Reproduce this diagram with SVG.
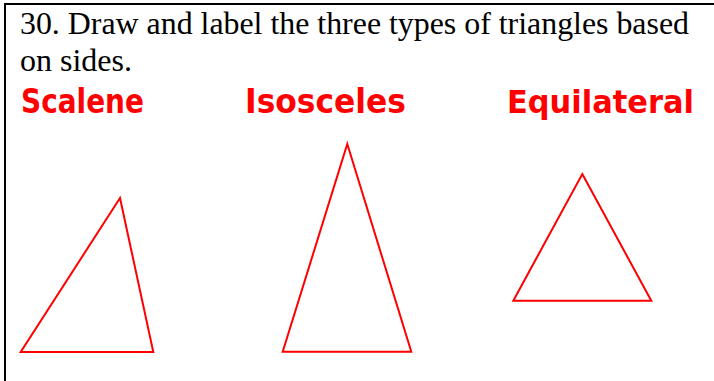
<svg xmlns="http://www.w3.org/2000/svg" width="714" height="381" viewBox="0 0 714 381">
<style>
.frame{stroke:#000;stroke-width:2;fill:none}
.q{font-family:"Liberation Serif","Times New Roman",serif;font-size:32px;fill:#000}
.lbl{font-family:"DejaVu Sans","Liberation Sans",sans-serif;font-weight:bold;font-size:34px;fill:#ff0000}
.tri{fill:none;stroke:#ff0000;stroke-width:2;stroke-linejoin:miter}
</style>
<rect width="714" height="381" fill="#fff"/>
<g id="frame">
<line class="frame" x1="4" y1="4" x2="714" y2="4"/>
<line class="frame" x1="5" y1="3" x2="5" y2="381"/>
</g>
<g id="question">
<text class="q" x="20" y="34" textLength="669" lengthAdjust="spacingAndGlyphs">30. Draw and label the three types of triangles based</text>
<text class="q" x="20" y="71">on sides.</text>
</g>
<g id="scalene">
<text class="lbl" x="21" y="113" textLength="123" lengthAdjust="spacingAndGlyphs">Scalene</text>
<polygon class="tri" points="120,198 153.3,352 20.7,352"/>
</g>
<g id="isosceles">
<text class="lbl" x="245" y="113" textLength="161" lengthAdjust="spacingAndGlyphs">Isosceles</text>
<polygon class="tri" points="347.3,144 411.3,351.7 282.7,351.7"/>
</g>
<g id="equilateral">
<text class="lbl" x="507" y="113" style="font-size:32px" textLength="187" lengthAdjust="spacingAndGlyphs">Equilateral</text>
<polygon class="tri" points="582.3,174 651.3,300.7 513.3,300.7"/>
</g>
<g id="connectors"></g>
</svg>
